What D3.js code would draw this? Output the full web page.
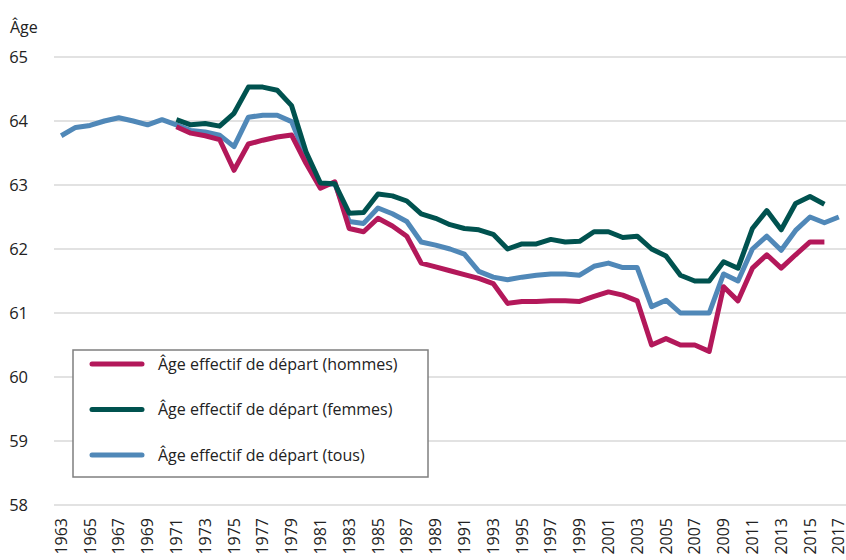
<!DOCTYPE html>
<html>
<head>
<meta charset="utf-8">
<script src="https://cdn.jsdelivr.net/npm/d3@7"></script>
<style>
	body { margin: 0; background: #ffffff; }
	text { font-family: "Open Sans", "Noto Sans", sans-serif; fill: #222222; }
</style>
</head>
<body>
<div id="chart"></div>
<script>

	const years = d3.range(1963, 2018);

	// null = pas de donnée
	const hommes = [
		null, null, null, null, null, null, null, null,
		63.91, 63.81, 63.77, 63.71, 63.23, 63.64, 63.70, 63.75, 63.78, 63.34,
		62.95, 63.05, 62.32, 62.27, 62.48, 62.36, 62.20, 61.78, 61.72, 61.66,
		61.60, 61.54, 61.46, 61.15, 61.18, 61.18, 61.19, 61.19, 61.18, 61.26,
		61.33, 61.28, 61.19, 60.50, 60.60, 60.50, 60.50, 60.40, 61.41, 61.19,
		61.70, 61.91, 61.70, 61.91, 62.11, 62.11, null
	];
	const femmes = [
		null, null, null, null, null, null, null, null,
		64.02, 63.94, 63.96, 63.92, 64.12, 64.53, 64.53, 64.48, 64.24, 63.52,
		63.03, 63.02, 62.56, 62.57, 62.86, 62.83, 62.75, 62.55, 62.48, 62.38,
		62.32, 62.30, 62.23, 62.00, 62.08, 62.08, 62.15, 62.11, 62.12, 62.27,
		62.27, 62.18, 62.20, 62.00, 61.89, 61.59, 61.50, 61.50, 61.80, 61.70,
		62.32, 62.60, 62.30, 62.71, 62.82, 62.70, null
	];
	const tous = [
		63.77, 63.90, 63.93, 64.00, 64.05, 64.00, 63.94, 64.02,
		63.94, 63.85, 63.83, 63.78, 63.60, 64.06, 64.09, 64.09, 63.99, 63.44,
		63.00, 63.02, 62.43, 62.40, 62.64, 62.55, 62.43, 62.11, 62.06, 62.00,
		61.92, 61.65, 61.56, 61.52, 61.56, 61.59, 61.61, 61.61, 61.59, 61.73,
		61.78, 61.71, 61.71, 61.10, 61.20, 61.00, 61.00, 61.00, 61.61, 61.50,
		62.00, 62.20, 61.98, 62.29, 62.50, 62.41, 62.50
	];

	const yTicks = [58, 59, 60, 61, 62, 63, 64, 65];
	const seriesNames = [
		'Âge effectif de départ (hommes)',
		'Âge effectif de départ (femmes)',
		'Âge effectif de départ (tous)'
	];
	const seriesColors = ['#b3185a', '#00524f', '#5088b8'];

	const width = 846;
	const height = 560;
	const margin = { top: 57, right: 0, bottom: 55, left: 54 };

	const svg = d3.select('#chart')
		.append('svg')
		.attr('width', width)
		.attr('height', height);

	const xScale = d3.scaleBand()
		.domain(years)
		.range([margin.left, width - margin.right]);

	const yScale = d3.scaleLinear()
		.domain([58, 65])
		.range([height - margin.bottom, margin.top]);

	// grille horizontale
	svg.append('g')
		.selectAll('line')
		.data(yTicks)
		.join('line')
		.attr('x1', margin.left)
		.attr('x2', width - margin.right)
		.attr('y1', d => yScale(d))
		.attr('y2', d => yScale(d))
		.attr('stroke', '#d9d9d9')
		.attr('stroke-width', 1.5);

	// axe Y
	const yAxis = svg.append('g')
		.attr('transform', 'translate(' + (margin.left - 26) + ',0)')
		.call(d3.axisLeft(yScale).tickValues(yTicks).tickFormat(d3.format('d')).tickSize(0).tickPadding(0));
	yAxis.select('.domain').remove();
	yAxis.selectAll('text')
		.attr('font-size', 16.5)
		.attr('dy', '0.35em');

	svg.append('text')
		.attr('x', 10)
		.attr('y', 33)
		.attr('font-size', 16)
		.text('Âge');

	// axe X
	const xAxis = svg.append('g')
		.attr('transform', 'translate(0,' + (height - margin.bottom) + ')')
		.call(d3.axisBottom(xScale).tickValues(years.filter(d => (d - 1963) % 2 === 0)).tickFormat(d3.format('d')).tickSize(0).tickPadding(0));
	xAxis.select('.domain').remove();
	xAxis.selectAll('text')
		.attr('font-size', 16)
		.attr('transform', 'rotate(-90)')
		.attr('text-anchor', 'end')
		.attr('x', -13)
		.attr('y', 0)
		.attr('dy', '0.35em');

	// courbes
	const allSeries = [hommes, femmes, tous];
	const line = d3.line()
		.defined(d => d.v !== null)
		.x(d => xScale(d.year) + xScale.bandwidth() / 2)
		.y(d => yScale(d.v));

	[2, 0, 1].forEach(function(i){
		const pts = years.map((y, j) => ({ year: y, v: allSeries[i][j] }));
		svg.append('path')
			.datum(pts)
			.attr('d', line)
			.attr('fill', 'none')
			.attr('stroke', seriesColors[i])
			.attr('stroke-width', 5)
			.attr('stroke-linejoin', 'round');
	});

	// légende
	const legend = svg.append('g');
	legend.append('rect')
		.attr('x', 73)
		.attr('y', 350)
		.attr('width', 355)
		.attr('height', 127)
		.attr('fill', '#ffffff')
		.attr('stroke', '#7f7f7f')
		.attr('stroke-width', 1.5);

	seriesNames.forEach(function(name, i){
		const ly = 364 + i * 45.5;
		legend.append('line')
			.attr('x1', 92)
			.attr('x2', 142)
			.attr('y1', ly)
			.attr('y2', ly)
			.attr('stroke', seriesColors[i])
			.attr('stroke-width', 5)
			.attr('stroke-linecap', 'round');
		legend.append('text')
			.attr('x', 158)
			.attr('y', ly)
			.attr('dy', '0.35em')
			.attr('font-size', 16)
			.text(name);
	});

</script>
</body>
</html>
